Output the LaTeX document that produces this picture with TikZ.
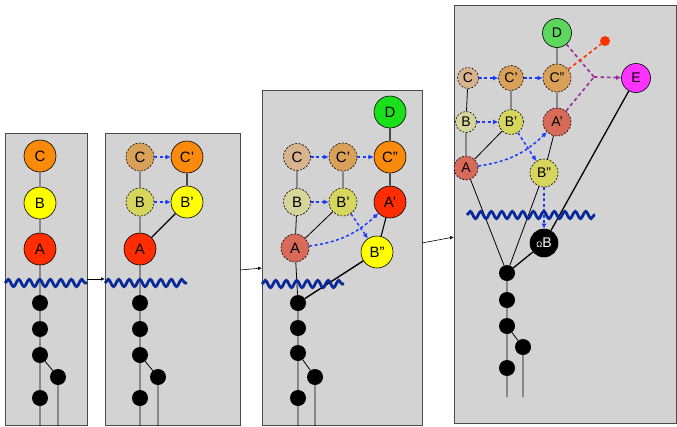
\documentclass[tikz,border=0pt]{standalone}
\usepackage{fontspec}
\setmainfont{Liberation Sans}
\usetikzlibrary{decorations.pathmorphing,arrows.meta}
\definecolor{boxgray}{HTML}{D3D3D3}
\definecolor{boxedge}{HTML}{4A4A4A}
\definecolor{corange}{HTML}{F98A0C}
\definecolor{cyellow}{HTML}{FFFF00}
\definecolor{cred}{HTML}{FF2D00}
\definecolor{fadeorange}{HTML}{D9A05A}
\definecolor{vfadeorange}{HTML}{D8B48E}
\definecolor{fadeyellow}{HTML}{D6D65E}
\definecolor{vfadeyellow}{HTML}{D6D69C}
\definecolor{fadered}{HTML}{D86A5A}
\definecolor{cgreen}{HTML}{19E019}
\definecolor{cgreentwo}{HTML}{5CD65C}
\definecolor{cmagenta}{HTML}{FF33FF}
\definecolor{wavecol}{HTML}{0A2A9A}
\definecolor{flowblue}{HTML}{1A3CFF}
\definecolor{cpurple}{HTML}{9A2A9A}
\definecolor{cdotred}{HTML}{FF3300}
\begin{document}
\begin{tikzpicture}[x=1pt,y=-1pt,
  panel/.style={draw=boxedge,fill=boxgray,line width=1pt},
  ball/.style={circle,draw=black,line width=0.6pt,inner sep=0pt,font=\fontsize{15}{15}\selectfont},
  ballsm/.style={ball,font=\fontsize{14}{14}\selectfont},
  ghost/.style={ball,dash pattern=on 2pt off 1.5pt},
  ghostsm/.style={ballsm,dash pattern=on 2pt off 1.5pt},
  blob/.style={circle,fill=black,minimum size=16pt,inner sep=0pt},
  wave/.style={draw=wavecol,line width=2.8pt,decorate,decoration={snake,amplitude=3.6pt,segment length=10.5pt}},
  link/.style={draw=black,line width=0.8pt},
  flow/.style={draw=flowblue,line width=1.5pt,dash pattern=on 3pt off 2.5pt,-{Latex[length=5pt,width=5pt]}},
  hop/.style={draw=black,line width=0.6pt,-{Latex[length=4pt,width=3.5pt]}},
  purp/.style={draw=cpurple,line width=1.6pt,dash pattern=on 3.5pt off 3pt}
]
\useasboundingbox (0,0) rectangle (677,426);
% panels
\draw[panel] (5,133) rectangle (87,425);
\draw[panel] (105,133) rectangle (240,425);
\draw[panel] (262,90) rectangle (422,425);
\draw[panel] (454,5) rectangle (676,423);
% arrows between panels
\coordinate (p1r) at (87,279); \coordinate (p2l) at (105,279);
\coordinate (p2r) at (240,270); \coordinate (p3l) at (262,268);
\coordinate (p3r) at (422,243); \coordinate (p4l) at (454,237);
\draw[hop] (p1r) -- (p2l);
\draw[hop] (p2r) -- (p3l);
\draw[hop] (p3r) -- (p4l);

% ---------- panel 1
\node[ball,fill=corange,minimum size=32pt] (C1) at (40,156) {C};
\node[ball,fill=cyellow,minimum size=32pt] (B1) at (40,203) {B};
\node[ball,fill=cred,minimum size=32pt] (A1) at (40,249) {A};
\node[blob] (d11) at (40,303) {};
\node[blob] (d12) at (40,329) {};
\node[blob] (d13) at (40,355) {};
\node[blob] (d14) at (58,377) {};
\node[blob] (d15) at (40,398) {};
\coordinate (e11) at (40,426); \coordinate (e12) at (58,426);
\draw[link] (C1)--(B1) (B1)--(A1) (A1)--(d11) (d11)--(d12) (d12)--(d13) (d13)--(d15) (d15)--(e11) (d13)--(d14) (d14)--(e12);
\draw[wave] (5,283) -- (87,283);

% ---------- panel 2
\node[ghost,fill=fadeorange,minimum size=28pt] (C2g) at (140,157) {C};
\node[ball,fill=corange,minimum size=32pt] (C2) at (187,157) {C’};
\node[ghost,fill=fadeyellow,minimum size=28pt] (B2g) at (140,202) {B};
\node[ball,fill=cyellow,minimum size=32pt] (B2) at (187,202) {B’};
\node[ball,fill=cred,minimum size=32pt] (A2) at (140,249) {A};
\node[blob] (d21) at (140,303) {};
\node[blob] (d22) at (140,329) {};
\node[blob] (d23) at (140,355) {};
\node[blob] (d24) at (158,377) {};
\node[blob] (d25) at (140,398) {};
\coordinate (e21) at (140,426); \coordinate (e22) at (158,426);
\draw[link] (C2g)--(B2g) (B2g)--(A2) (A2)--(d21) (d21)--(d22) (d22)--(d23) (d23)--(d25) (d25)--(e21) (d23)--(d24) (d24)--(e22);
\draw[link,line width=1.1pt] (C2)--(B2) (B2)--(A2);
\draw[flow] (C2g)--(C2);
\draw[flow] (B2g)--(B2);
\draw[wave] (105,283) -- (187,283);

% ---------- panel 3
\node[ghost,fill=vfadeorange,minimum size=27pt] (C3g) at (297,157) {C};
\node[ghost,fill=fadeorange,minimum size=28pt] (C3p) at (343,157) {C’};
\node[ball,fill=corange,minimum size=32pt] (C3) at (390,157) {C”};
\node[ball,fill=cgreen,minimum size=32pt] (D3) at (390,112) {D};
\node[ghost,fill=vfadeyellow,minimum size=27pt] (B3g) at (297,202) {B};
\node[ghost,fill=fadeyellow,minimum size=28pt] (B3p) at (343,202) {B’};
\node[ball,fill=cred,minimum size=32pt] (A3) at (390,202) {A’};
\node[ball,fill=cyellow,minimum size=32pt] (B3) at (377,252) {B”};
\node[ghost,fill=fadered,minimum size=28pt] (A3g) at (295,248) {A};
\node[blob] (d31) at (298,303) {};
\node[blob] (d32) at (298,328) {};
\node[blob] (d33) at (298,353) {};
\node[blob] (d34) at (315,377) {};
\node[blob] (d35) at (298,398) {};
\coordinate (e31) at (298,426); \coordinate (e32) at (315,426);
\draw[link] (C3g)--(B3g) (B3g)--(A3g) (C3p)--(B3p) (B3p)--(A3g) (A3g)--(d31)
  (d31)--(d32) (d32)--(d33) (d33)--(d35) (d35)--(e31) (d33)--(d34) (d34)--(e32);
\draw[link,line width=1.1pt] (D3)--(C3) (C3)--(A3) (A3)--(B3);
\draw[link,line width=1.4pt] (B3)--(d31);
\draw[flow] (C3g)--(C3p);
\draw[flow] (C3p)--(C3);
\draw[flow] (B3g)--(B3p);
\draw[flow] (B3p)--(B3);
\draw[flow] (A3g) to[bend right=18] (A3);
\draw[wave] (262,284) -- (344,284);

% ---------- panel 4
\node[ghostsm,fill=vfadeorange,minimum size=21pt] (C4g) at (468,78) {C};
\node[ghostsm,fill=fadeorange,minimum size=25pt] (C4p) at (511,78) {C’};
\node[ghostsm,fill=fadeorange,minimum size=28pt] (C4) at (557,78) {C”};
\node[ballsm,fill=cgreentwo,minimum size=29pt] (D4) at (557,33) {D};
\node[ghostsm,fill=vfadeyellow,minimum size=21pt] (B4g) at (466,122) {B};
\node[ghostsm,fill=fadeyellow,minimum size=25pt] (B4p) at (511,122) {B’};
\node[ghostsm,fill=fadered,minimum size=28pt] (A4) at (557,122) {A’};
\node[ghostsm,fill=fadeyellow,minimum size=28pt] (B4) at (544,173) {B”};
\node[ghostsm,fill=fadered,minimum size=24pt] (A4g) at (466,168) {A};
\node[ballsm,fill=cmagenta,minimum size=29pt] (E4) at (636,78) {E};
\node[ballsm,fill=black,text=white,minimum size=28pt] (W4) at (544,243) {{\fontsize{8}{8}\selectfont Ω}B};
\node[circle,fill=cdotred,minimum size=10pt,inner sep=0pt] (R4) at (605,41) {};
\coordinate (J4) at (594,77);
\node[blob] (d41) at (507,273) {};
\node[blob] (d42) at (507,300) {};
\node[blob] (d43) at (507,326) {};
\node[blob] (d44) at (523,347) {};
\node[blob] (d45) at (507,368) {};
\coordinate (e41) at (507,397); \coordinate (e42) at (523,397);
\draw[link] (C4g)--(B4g) (B4g)--(A4g) (C4p)--(B4p) (B4p)--(A4g) (D4)--(C4) (C4)--(A4) (A4)--(B4)
  (A4g)--(d41) (B4)--(d41)
  (d41)--(d42) (d42)--(d43) (d43)--(d45) (d45)--(e41) (d43)--(d44) (d44)--(e42);
\draw[link,line width=1.3pt] (E4)--(W4) (W4)--(d41);
\draw[flow] (C4g)--(C4p);
\draw[flow] (C4p)--(C4);
\draw[flow] (B4g)--(B4p);
\draw[flow] (B4p)--(B4);
\draw[flow] (A4g) to[bend right=18] (A4);
\draw[flow] (B4)--(W4);
\draw[purp] (D4)--(J4);
\draw[purp] (A4)--(J4);
\draw[purp,-{Latex[length=5pt,width=5pt]}] (J4)--(E4);
\draw[draw=cdotred,line width=1.6pt,dash pattern=on 3.5pt off 3pt] (C4)--(R4);
\draw[wave] (467,215) -- (595,215);
\end{tikzpicture}
\end{document}
